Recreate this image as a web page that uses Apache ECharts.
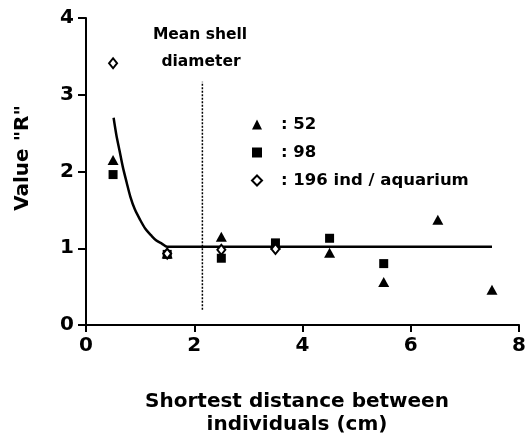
<!DOCTYPE html>
<html>
<head>
<meta charset="utf-8" />
<script src="https://cdn.jsdelivr.net/npm/echarts@6/dist/echarts.min.js"></script>
<title>Value R vs distance</title>
<style>
  html, body { margin: 0; padding: 0; background: #fff; }
  #main { width: 529px; height: 437px; }
</style>
</head>
<body>
<div id="main"></div>
<script type="text/javascript">
// distances (cm)
var xTicks = [0, 2, 4, 6, 8];
var yTicks = [0, 1, 2, 3, 4];

// R values, [distance, R]
var d52 = [[0.5, 2.15], [1.5, 0.93], [2.5, 1.15], [3.5, 1.05], [4.5, 0.94], [5.5, 0.56], [6.5, 1.37], [7.5, 0.46]];
var d98 = [[0.5, 1.96], [1.5, 0.92], [2.5, 0.87], [3.5, 1.07], [4.5, 1.13], [5.5, 0.80]];
var d196 = [[0.5, 3.41], [1.5, 0.93], [2.5, 0.98], [3.5, 0.99]];

// fitted curve
var fitCurve = [[0.51, 2.70], [0.56, 2.48], [0.62, 2.27], [0.68, 2.06], [0.75, 1.86], [0.82, 1.67],
    [0.90, 1.51], [1.00, 1.37], [1.10, 1.25], [1.20, 1.17], [1.30, 1.10], [1.40, 1.06], [1.50, 1.02], [7.50, 1.02]];

// mean shell diameter marker
var shellLine = [[2.15, 0.2], [2.15, 3.17]];

var seriesNames = ['52', '98', '196 ind / aquarium'];

var font = 'DejaVu Sans';
var myChart = echarts.init(document.getElementById('main'));

function txt(s, size, extra) {
    var st = { text: s, fontFamily: font, fontWeight: 'bold', fontSize: size, fill: '#000' };
    for (var k in extra) st[k] = extra[k];
    return st;
}

var option = {
    animation: false,
    backgroundColor: '#fff',
    grid: { left: 86, right: 4, top: 18, bottom: 112 },
    legend: {
        data: [
            { name: seriesNames[0], icon: 'triangle' },
            { name: seriesNames[1], icon: 'rect' },
            { name: seriesNames[2], icon: 'diamond', itemStyle: { color: '#fff', borderColor: '#000', borderWidth: 2 } }
        ],
        orient: 'vertical',
        left: 246,
        top: 111,
        itemWidth: 10,
        itemHeight: 10,
        itemGap: 11,
        formatter: ': {name}',
        textStyle: { fontFamily: font, fontWeight: 'bold', fontSize: 16.5, color: '#000', padding: [0, 0, 0, 14] }
    },
    xAxis: {
        type: 'value',
        min: 0, max: 8, interval: 2,
        splitLine: { show: false },
        axisLine: { lineStyle: { color: '#000', width: 2 } },
        axisTick: { length: 7, lineStyle: { color: '#000', width: 2 } },
        axisLabel: { margin: 11, fontFamily: font, fontWeight: 'bold', fontSize: 20, color: '#000',
            formatter: function (v) { return xTicks.indexOf(v) >= 0 ? String(v) : ''; } }
    },
    yAxis: {
        type: 'value',
        min: 0, max: 4, interval: 1,
        splitLine: { show: false },
        axisLine: { show: true, lineStyle: { color: '#000', width: 2 } },
        axisTick: { show: true, length: 8, lineStyle: { color: '#000', width: 2 } },
        axisLabel: { margin: 12, fontFamily: font, fontWeight: 'bold', fontSize: 20, color: '#000',
            formatter: function (v) { return yTicks.indexOf(v) >= 0 ? String(v) : ''; } }
    },
    graphic: [
        { type: 'text', x: 200, y: 35, style: txt('Mean shell', 15.5, { align: 'center', verticalAlign: 'middle' }) },
        { type: 'text', x: 201, y: 62, style: txt('diameter', 15.5, { align: 'center', verticalAlign: 'middle' }) },
        { type: 'text', x: 23, y: 158, rotation: Math.PI / 2,
          style: txt('Value "R"', 20, { align: 'center', verticalAlign: 'middle' }) },
        { type: 'text', x: 297, y: 402, style: txt('Shortest distance between', 20, { align: 'center', verticalAlign: 'middle' }) },
        { type: 'text', x: 297, y: 425, style: txt('individuals (cm)', 20, { align: 'center', verticalAlign: 'middle' }) }
    ],
    series: [
        {
            name: 'fit', type: 'line', data: fitCurve, smooth: 0.3,
            showSymbol: false, symbol: 'none', silent: true, z: 1,
            lineStyle: { color: '#000', width: 2.5 }
        },
        {
            name: 'shell', type: 'line', data: shellLine, showSymbol: false, symbol: 'none', silent: true, z: 1,
            lineStyle: { color: '#000', width: 1.5, type: [2, 1.5] }
        },
        {
            name: seriesNames[0], type: 'scatter', data: d52, symbol: 'triangle', symbolSize: [11, 10], z: 3,
            itemStyle: { color: '#000', opacity: 1 }
        },
        {
            name: seriesNames[1], type: 'scatter', data: d98, symbol: 'rect', symbolSize: 9, z: 4,
            itemStyle: { color: '#000', opacity: 1 }
        },
        {
            name: seriesNames[2], type: 'scatter', data: d196, symbol: 'diamond', symbolSize: [8, 10], z: 5,
            itemStyle: { color: '#fff', borderColor: '#000', borderWidth: 2, opacity: 1 }
        }
    ]
};
myChart.setOption(option);
</script>
</body>
</html>
